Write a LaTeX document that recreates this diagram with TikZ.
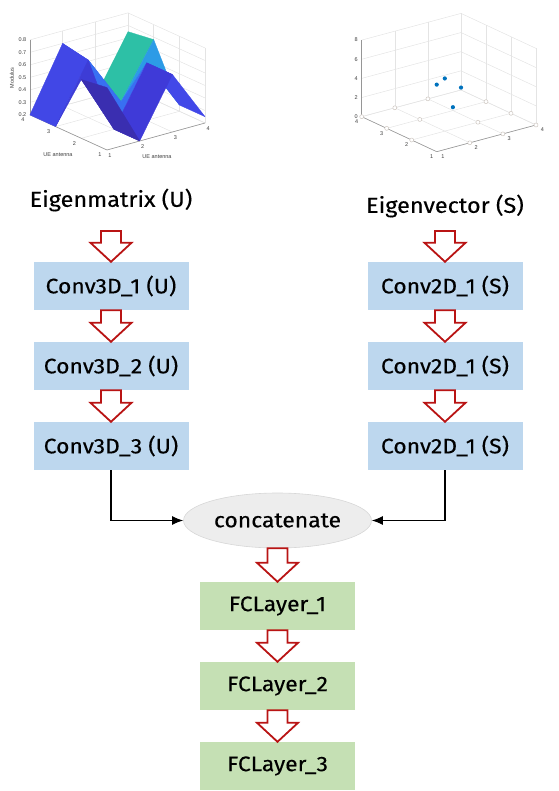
\documentclass[tikz,border=0pt]{standalone}
\usepackage{fontspec}
\setmainfont{Fira Sans}
\newfontfamily\diagfont{Fira Sans}[FakeStretch=1.09,FakeBold=0.3]
\newfontfamily\plotfont{Liberation Sans}
\usetikzlibrary{arrows.meta,calc,shapes.geometric}
\definecolor{boxblue}{RGB}{189,215,238}
\definecolor{boxgreen}{RGB}{197,224,180}
\definecolor{catfill}{RGB}{237,237,237}
\definecolor{catline}{RGB}{215,215,215}
\definecolor{arrowred}{RGB}{185,20,20}
\definecolor{gridgray}{RGB}{228,228,228}
\definecolor{axgray}{RGB}{150,150,150}
\definecolor{ticktext}{RGB}{60,60,60}
\definecolor{qa}{RGB}{65,71,230}
\definecolor{qb}{RGB}{61,60,214}
\definecolor{qc}{RGB}{58,46,176}
\definecolor{qd}{RGB}{63,58,216}
\definecolor{qe}{RGB}{66,72,232}
\definecolor{qf}{RGB}{56,112,242}
\definecolor{qg}{RGB}{44,155,230}
\definecolor{qh}{RGB}{45,192,166}
\definecolor{qi}{RGB}{60,94,240}
\definecolor{dotblue}{RGB}{0,114,189}
\definecolor{ringgray}{RGB}{205,198,192}
\newcommand{\holarrow}[2]{%
  \draw[hollowarrow] let \p1=(#1), \p2=(#2) in
    (\x2,\y2) -- (\x2-20.5pt,\y2+19pt) -- (\x2-10pt,\y2+19pt) -- (\x2-10pt,\y1)
    -- (\x2+10pt,\y1) -- (\x2+10pt,\y2+19pt) -- (\x2+20.5pt,\y2+19pt) -- cycle;}
\begin{document}
\begin{tikzpicture}[x=1pt,y=-1pt,
  layerbox/.style={minimum width=155pt,minimum height=48pt,inner sep=0pt,
    font=\diagfont\fontsize{21}{25}\selectfont},
  ubox/.style={layerbox,fill=boxblue},
  fbox/.style={layerbox,fill=boxgreen},
  header/.style={font=\diagfont\fontsize{21.5}{25}\selectfont,inner sep=0pt},
  hollowarrow/.style={draw=arrowred,fill=white,line width=1.8pt,line join=miter},
  conn/.style={draw=black,line width=1.2pt,-{Latex[length=11pt,width=9pt]}},
  grid/.style={draw=gridgray,line width=0.5pt},
  axline/.style={draw=axgray,line width=0.6pt},
  ticklab/.style={font=\plotfont\fontsize{5.5}{6}\selectfont,text=ticktext,inner sep=0pt},
  ring/.style={draw=ringgray,fill=white,line width=0.5pt},
  dot/.style={fill=dotblue}]
\useasboundingbox (0,0) rectangle (558,791);

% ================= left plot (surface) =================
\foreach \i in {1,...,4}
  \draw[grid] ({107+32.7*(\i-1)},{150-9*(\i-1)}) -- ++(-77.1,-35.1);
\foreach \j in {1,...,4}
  \draw[grid] ({107-25.7*(\j-1)},{150-11.7*(\j-1)}) -- ++(98.1,-27);
\foreach \i in {1,...,4}
  \draw[grid] ({29.9+32.7*(\i-1)},{114.9-9*(\i-1)}) -- ++(0,-75);
\foreach \z in {0,...,6}
  \draw[grid] (29.9,{114.9-12.5*\z}) -- ++(98.1,-27);
\foreach \j in {1,...,4}
  \draw[grid] ({205.1-25.7*(\j-1)},{123-11.7*(\j-1)}) -- ++(0,-75);
\foreach \z in {0,...,6}
  \draw[grid] (128,{87.9-12.5*\z}) -- ++(77.1,35.1);
\draw[axline] (29.9,114.9) -- (29.9,39.9);
\draw[axline] (107,150) -- (29.9,114.9);
\draw[axline] (107,150) -- (205.1,123);
\foreach \i/\j/\h in {1/1/0.70,1/2/0.67,1/3/0.2,1/4/0.2,
                      2/1/0.2,2/2/0.2,2/3/0.66,2/4/0.70,
                      3/1/0.66,3/2/0.66,3/3/0.255,3/4/0.2,
                      4/1/0.25,4/2/0.25,4/3/0.68,4/4/0.65}
  \coordinate (S\i\j) at ({107+32.7*(\i-1)-25.7*(\j-1)},{150-9*(\i-1)-11.7*(\j-1)-125*(\h-0.2)});
\foreach \i/\j/\c in {3/3/qh,2/3/qi,3/2/qg,1/3/qa,2/2/qf,3/1/qe,1/2/qb,2/1/qd,1/1/qc}{
  \pgfmathtruncatemacro{\ii}{\i+1}
  \pgfmathtruncatemacro{\jj}{\j+1}
  \filldraw[fill=\c,draw=\c,line width=0.3pt,line join=round]
    (S\i\j) -- (S\ii\j) -- (S\ii\jj) -- (S\i\jj) -- cycle;
}
\foreach \z/\t in {0/0.2,1/0.3,2/0.4,3/0.5,4/0.6,5/0.7,6/0.8}
  \node[ticklab,anchor=east] at (26.5,{114.9-12.5*\z}) {\t};
\foreach \j in {1,...,4}
  \node[ticklab] at ({100-25.7*(\j-1)},{155-11.7*(\j-1)}) {\j};
\foreach \i in {1,...,4}
  \node[ticklab] at ({110+32.7*(\i-1)},{156-9*(\i-1)}) {\i};
\node[ticklab] (ylab) at (58,155) {UE antenna};
\node[ticklab] (xlab) at (157,157) {UE antenna};
\node[ticklab,rotate=90] (zlab) at (12,78) {Modulus};

% ================= right plot (scatter) =================
\foreach \i in {1,...,4}
  \draw[grid] ({436.7+33.1*(\i-1)},{151.7-8.9*(\i-1)}) -- ++(-75,-35);
\foreach \j in {1,...,4}
  \draw[grid] ({436.7-25*(\j-1)},{151.7-11.67*(\j-1)}) -- ++(99.3,-26.7);
\foreach \i in {1,...,4}
  \draw[grid] ({361.7+33.1*(\i-1)},{116.7-8.9*(\i-1)}) -- ++(0,-76.6);
\foreach \z in {0,...,4}
  \draw[grid] (361.7,{116.7-19.15*\z}) -- ++(99.3,-26.7);
\foreach \j in {1,...,4}
  \draw[grid] ({536-25*(\j-1)},{125-11.67*(\j-1)}) -- ++(0,-76.6);
\foreach \z in {0,...,4}
  \draw[grid] (461,{90-19.15*\z}) -- ++(75,35);
\draw[axline] (361.7,116.7) -- (361.7,40.1);
\draw[axline] (436.7,151.7) -- (361.7,116.7);
\draw[axline] (436.7,151.7) -- (536,125);
\foreach \i/\j in {2/1,3/1,4/1,1/2,3/2,4/2,1/3,2/3,4/3,1/4,2/4,3/4}
  \draw[ring] ({436.7+33.1*(\i-1)-25*(\j-1)},{151.7-8.9*(\i-1)-11.67*(\j-1)}) circle (2pt);
\foreach \i/\h in {1/7,2/5.5,3/0.35,4/0.25}
  \fill[dot] ({436.7+33.1*(\i-1)-25*(\i-1)},{151.7-8.9*(\i-1)-11.67*(\i-1)-9.58*\h}) circle (2.1pt);
\foreach \z in {0,2,4,6,8}
  \node[ticklab,anchor=east] at (358,{116.7-9.58*\z}) {\z};
\foreach \j in {1,...,4}
  \node[ticklab] at ({431.7-25*(\j-1)},{156.5-11.67*(\j-1)}) {\j};
\foreach \i in {1,...,4}
  \node[ticklab] at ({443+33.1*(\i-1)},{156.7-8.9*(\i-1)}) {\i};

% ================= flow diagram =================
\node[header] (hu) at (111,200) {Eigenmatrix (U)};
\node[header] (hs) at (445,206) {Eigenvector (S)};
\coordinate (hua) at (111,231);
\coordinate (hsa) at (445,231);

\node[ubox] (u1) at (111,286) {Conv3D\_1 (U)};
\node[ubox] (u2) at (111,366) {Conv3D\_2 (U)};
\node[ubox] (u3) at (111,446) {Conv3D\_3 (U)};
\node[ubox] (s1) at (445,286) {Conv2D\_1 (S)};
\node[ubox] (s2) at (445,366) {Conv2D\_1 (S)};
\node[ubox] (s3) at (445,446) {Conv2D\_1 (S)};

\node[ellipse,fill=catfill,draw=catline,line width=0.6pt,minimum width=188pt,
  minimum height=55pt,inner sep=0pt,font=\diagfont\fontsize{21}{25}\selectfont] (cat) at (277.5,520.5) {concatenate};

\node[fbox] (f1) at (277.5,606) {FCLayer\_1};
\node[fbox] (f2) at (277.5,686) {FCLayer\_2};
\node[fbox] (f3) at (277.5,766) {FCLayer\_3};

\holarrow{hua}{u1.north}
\holarrow{u1.south}{u2.north}
\holarrow{u2.south}{u3.north}
\holarrow{hsa}{s1.north}
\holarrow{s1.south}{s2.north}
\holarrow{s2.south}{s3.north}
\holarrow{cat.south}{f1.north}
\holarrow{f1.south}{f2.north}
\holarrow{f2.south}{f3.north}

\draw[conn] (u3.south) |- (cat.west);
\draw[conn] (s3.south) |- (cat.east);
\end{tikzpicture}
\end{document}
